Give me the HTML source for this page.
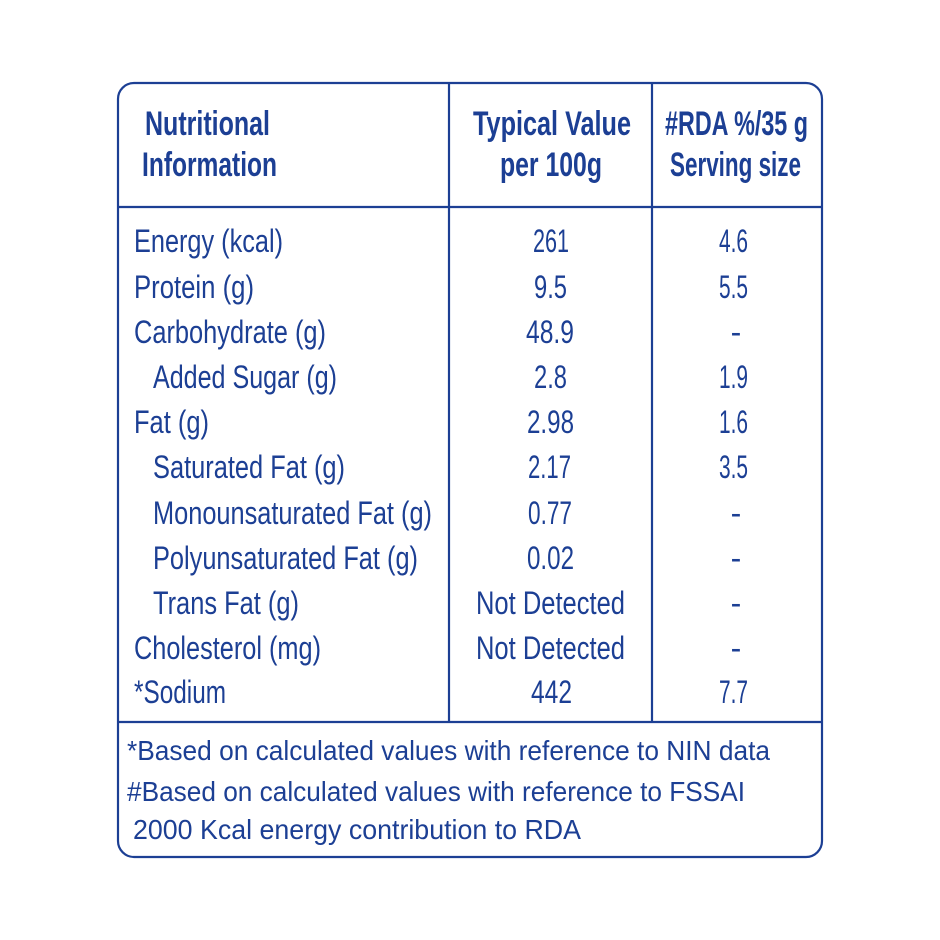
<!DOCTYPE html>
<html><head><meta charset="utf-8"><style>
html,body{margin:0;padding:0;background:#fff;}
svg{display:block;}
text{font-family:"Liberation Sans Narrow","Liberation Sans",sans-serif;fill:#1c3f94;}
.b{font-weight:bold;font-size:34px;}
.r{font-size:32px;}
.f{font-family:"Liberation Sans",sans-serif;font-size:28px;}
</style></head><body>
<svg width="940" height="940" viewBox="0 0 940 940" xmlns="http://www.w3.org/2000/svg">
<rect x="118" y="83" width="704" height="774" rx="16" ry="16" fill="none" stroke="#1c3f94" stroke-width="2.2"/>
<line x1="118" y1="207" x2="822" y2="207" stroke="#1c3f94" stroke-width="2.2"/>
<line x1="118" y1="722" x2="822" y2="722" stroke="#1c3f94" stroke-width="2.2"/>
<line x1="449" y1="83" x2="449" y2="722" stroke="#1c3f94" stroke-width="2.2"/>
<line x1="652" y1="83" x2="652" y2="722" stroke="#1c3f94" stroke-width="2.2"/>

<text class="b" x="145" y="135" textLength="125" lengthAdjust="spacingAndGlyphs">Nutritional</text>
<text class="b" x="142" y="176" textLength="135" lengthAdjust="spacingAndGlyphs">Information</text>
<text class="b" x="473" y="135" textLength="158" lengthAdjust="spacingAndGlyphs">Typical Value</text>
<text class="b" x="500" y="176" textLength="102" lengthAdjust="spacingAndGlyphs">per 100g</text>
<text class="b" x="665" y="135" textLength="143" lengthAdjust="spacingAndGlyphs">#RDA %/35 g</text>
<text class="b" x="670" y="176" textLength="131" lengthAdjust="spacingAndGlyphs">Serving size</text>

<g class="r">
<text class="r" x="134" y="252" textLength="149" lengthAdjust="spacingAndGlyphs">Energy (kcal)</text>
<text class="r" x="134" y="298" textLength="120" lengthAdjust="spacingAndGlyphs">Protein (g)</text>
<text class="r" x="134" y="343" textLength="192" lengthAdjust="spacingAndGlyphs">Carbohydrate (g)</text>
<text class="r" x="153" y="388" textLength="184" lengthAdjust="spacingAndGlyphs">Added Sugar (g)</text>
<text class="r" x="134" y="433" textLength="75" lengthAdjust="spacingAndGlyphs">Fat (g)</text>
<text class="r" x="153" y="478" textLength="192" lengthAdjust="spacingAndGlyphs">Saturated Fat (g)</text>
<text class="r" x="153" y="524" textLength="279" lengthAdjust="spacingAndGlyphs">Monounsaturated Fat (g)</text>
<text class="r" x="153" y="569" textLength="265" lengthAdjust="spacingAndGlyphs">Polyunsaturated Fat (g)</text>
<text class="r" x="153" y="614" textLength="146" lengthAdjust="spacingAndGlyphs">Trans Fat (g)</text>
<text class="r" x="134" y="659" textLength="187" lengthAdjust="spacingAndGlyphs">Cholesterol (mg)</text>
<text class="r" x="134" y="703" textLength="92" lengthAdjust="spacingAndGlyphs">*Sodium</text>

<text class="r" x="533" y="252" textLength="36" lengthAdjust="spacingAndGlyphs">261</text>
<text class="r" x="534" y="298" textLength="33" lengthAdjust="spacingAndGlyphs">9.5</text>
<text class="r" x="526" y="343" textLength="48" lengthAdjust="spacingAndGlyphs">48.9</text>
<text class="r" x="534" y="388" textLength="33" lengthAdjust="spacingAndGlyphs">2.8</text>
<text class="r" x="527" y="433" textLength="47" lengthAdjust="spacingAndGlyphs">2.98</text>
<text class="r" x="528" y="478" textLength="43" lengthAdjust="spacingAndGlyphs">2.17</text>
<text class="r" x="528" y="524" textLength="44" lengthAdjust="spacingAndGlyphs">0.77</text>
<text class="r" x="527" y="569" textLength="47" lengthAdjust="spacingAndGlyphs">0.02</text>
<text class="r" x="476" y="614" textLength="149" lengthAdjust="spacingAndGlyphs">Not Detected</text>
<text class="r" x="476" y="659" textLength="149" lengthAdjust="spacingAndGlyphs">Not Detected</text>
<text class="r" x="531" y="703" textLength="41" lengthAdjust="spacingAndGlyphs">442</text>

<text class="r" x="719" y="252" textLength="29" lengthAdjust="spacingAndGlyphs">4.6</text>
<text class="r" x="719" y="298" textLength="29" lengthAdjust="spacingAndGlyphs">5.5</text>
<text class="r" x="736" y="343" text-anchor="middle">-</text>
<text class="r" x="719" y="388" textLength="29" lengthAdjust="spacingAndGlyphs">1.9</text>
<text class="r" x="719" y="433" textLength="29" lengthAdjust="spacingAndGlyphs">1.6</text>
<text class="r" x="719" y="478" textLength="29" lengthAdjust="spacingAndGlyphs">3.5</text>
<text class="r" x="736" y="524" text-anchor="middle">-</text>
<text class="r" x="736" y="569" text-anchor="middle">-</text>
<text class="r" x="736" y="614" text-anchor="middle">-</text>
<text class="r" x="736" y="659" text-anchor="middle">-</text>
<text class="r" x="719" y="703" textLength="29" lengthAdjust="spacingAndGlyphs">7.7</text>
</g>

<text class="f" x="127" y="760" textLength="643" lengthAdjust="spacingAndGlyphs">*Based on calculated values with reference to NIN data</text>
<text class="f" x="127" y="801" textLength="618" lengthAdjust="spacingAndGlyphs">#Based on calculated values with reference to FSSAI</text>
<text class="f" x="133" y="839" textLength="448" lengthAdjust="spacingAndGlyphs">2000 Kcal energy contribution to RDA</text>
</svg>
</body></html>
